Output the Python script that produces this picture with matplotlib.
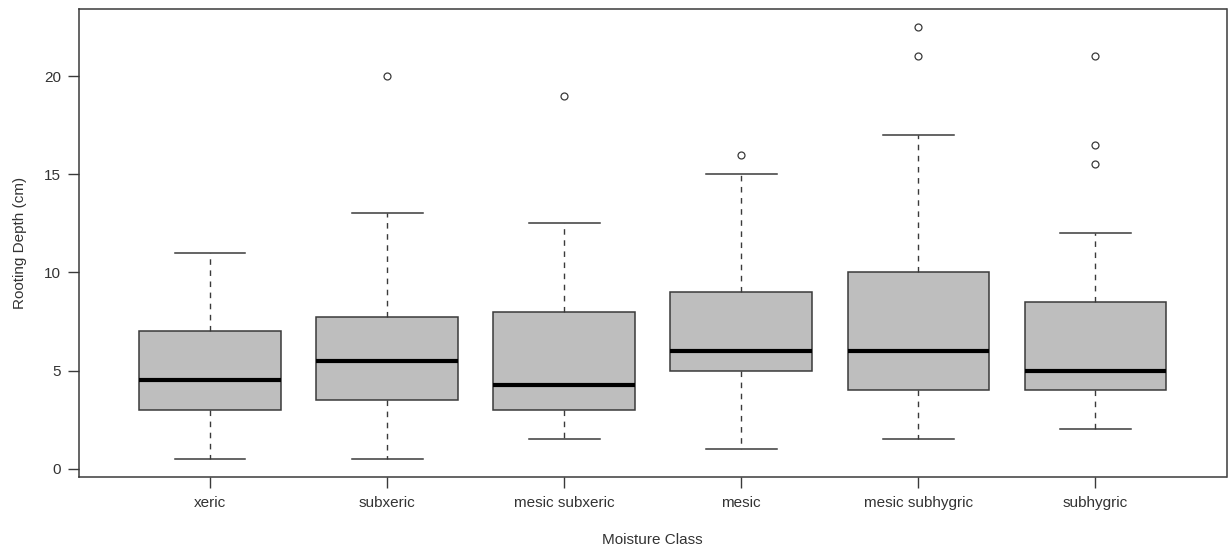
import numpy as np
import matplotlib
matplotlib.use("Agg")
import matplotlib.pyplot as plt

# Data
classes = ["xeric", "subxeric", "mesic subxeric", "mesic", "mesic subhygric", "subhygric"]
whis_lo = [0.5, 0.5, 1.5, 1.0, 1.5, 2.0]
q1 = [3.0, 3.5, 3.0, 5.0, 4.0, 4.0]
medians = [4.5, 5.5, 4.25, 6.0, 6.0, 5.0]
q3 = [7.0, 7.75, 8.0, 9.0, 10.0, 8.5]
whis_hi = [11.0, 13.0, 12.5, 15.0, 17.0, 12.0]
outliers = [[], [20.0], [19.0], [16.0], [21.0, 22.5], [15.5, 16.5, 21.0]]
yticks = [0, 5, 10, 15, 20]

plt.rcParams['font.family'] = ['Liberation Sans', 'DejaVu Sans']

line_col = "#3a3a3a"
text_col = "#333333"

fig = plt.figure(figsize=(12.28, 5.5), dpi=100)
ax = fig.add_axes([79 / 1228, 1 - 477 / 550, 1147.5 / 1228, (477 - 8.7) / 550])

stats = []
for i in range(len(classes)):
    stats.append(dict(label=classes[i], whislo=whis_lo[i], q1=q1[i], med=medians[i],
                      q3=q3[i], whishi=whis_hi[i], fliers=outliers[i]))

ax.bxp(stats, positions=np.arange(1, len(classes) + 1), widths=0.8, capwidths=0.4,
       patch_artist=True, showfliers=True,
       boxprops=dict(facecolor="#bebebe", edgecolor=line_col, linewidth=1.1),
       medianprops=dict(color="black", linewidth=3, solid_capstyle="butt"),
       whiskerprops=dict(color=line_col, linewidth=1.0, linestyle=(0, (4, 4))),
       capprops=dict(color=line_col, linewidth=1.1),
       flierprops=dict(marker="o", markerfacecolor="none", markeredgecolor=line_col,
                       markersize=5, markeredgewidth=0.9))

ax.set_xlim(0.26, 6.74)
ax.set_ylim(-0.42, 23.43)
ax.set_yticks(yticks)
ax.set_yticklabels([str(t) for t in yticks])

for s in ax.spines.values():
    s.set_color(line_col)
    s.set_linewidth(1.1)

ax.tick_params(axis="both", direction="out", length=8, width=1.0, color=line_col,
               labelsize=11, labelcolor=text_col)
ax.tick_params(axis="y", pad=5)
ax.tick_params(axis="x", pad=6)

ax.set_xlabel("Moisture Class", fontsize=11, color=text_col, labelpad=16)
ax.set_ylabel("Rooting Depth (cm)", fontsize=11, color=text_col, labelpad=12.5)

fig.savefig("out.png", dpi=100)
